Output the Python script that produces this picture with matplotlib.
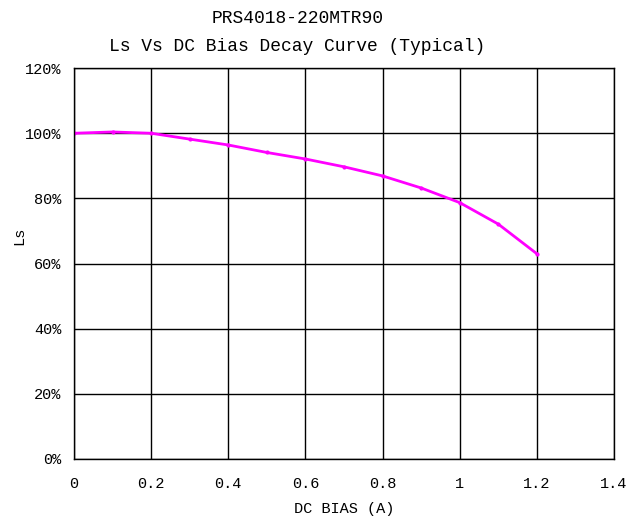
import matplotlib.pyplot as plt
from matplotlib.ticker import FuncFormatter

# DC bias current (A) and inductance retention (%)
bias = [0.0, 0.1, 0.2, 0.3, 0.4, 0.5, 0.6, 0.7, 0.8, 0.9, 1.0, 1.1, 1.2]
ls_pct = [100.0, 100.4, 100.0, 98.2, 96.4, 94.1, 92.1, 89.7, 86.9, 83.2, 78.7, 72.1, 63.0]

x_ticks = [0, 0.2, 0.4, 0.6, 0.8, 1, 1.2, 1.4]
x_labels = ['0', '0.2', '0.4', '0.6', '0.8', '1', '1.2', '1.4']
y_ticks = [0, 20, 40, 60, 80, 100, 120]

plt.rcParams['font.family'] = ['Liberation Mono', 'DejaVu Sans Mono']

fig = plt.figure(figsize=(6.35, 5.16), dpi=100)
ax = fig.add_axes([0.1165, 0.1105, 0.8505, 0.7575])

ax.plot(bias, ls_pct, color='#ff00ff', lw=2, marker='o', ms=2)

ax.set_xlim(0, 1.4)
ax.set_ylim(0, 120)
ax.set_xticks(x_ticks)
ax.set_xticklabels(x_labels)
ax.set_yticks(y_ticks)
ax.yaxis.set_major_formatter(FuncFormatter(lambda v, p: '%d%%' % v))
ax.tick_params(length=0, labelsize=11)
ax.tick_params(axis='x', pad=13)
ax.tick_params(axis='y', pad=9)
ax.grid(True, color='black', lw=1)
for s in ax.spines.values():
    s.set_color('black')
    s.set_linewidth(1)

ax.set_xlabel('DC BIAS (A)', fontsize=11, labelpad=8)
ax.set_ylabel('Ls', fontsize=11)
ax.yaxis.set_label_coords(-0.088, 0.57)

fig.text(0.468, 0.965, 'PRS4018-220MTR90', ha='center', va='center',
         fontsize=13)
fig.text(0.468, 0.909, 'Ls Vs DC Bias Decay Curve (Typical)', ha='center',
         va='center', fontsize=13)

fig.savefig('out.png', dpi=100)
